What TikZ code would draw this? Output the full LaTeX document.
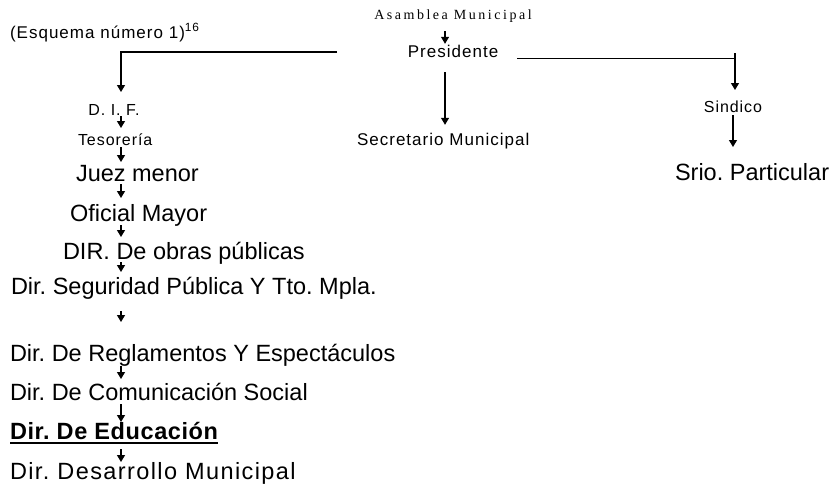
\documentclass[tikz,border=0pt]{standalone}
\usepackage{fontspec}
\setmainfont{Liberation Sans}
\frenchspacing
\newfontfamily\fsmall[LetterSpace=6]{Liberation Sans}
\newfontfamily\fbig{Liberation Sans}
\newfontfamily\fdes[LetterSpace=6]{Liberation Sans}
\newfontfamily\fedu[LetterSpace=2.5]{Liberation Sans}
\newfontfamily\fserif[LetterSpace=18]{Liberation Serif}
\usetikzlibrary{arrows.meta}
\tikzset{
  txt/.style={inner sep=0pt, outer sep=0pt, text depth=0pt},
  big/.style={txt, font=\fbig\frenchspacing\fontsize{23.5}{28}\selectfont, text height=17pt, anchor=base west},
  sm/.style={txt, font=\fsmall\frenchspacing\fontsize{16}{19}\selectfont, text height=11.5pt},
  md/.style={txt, font=\fsmall\frenchspacing\fontsize{17}{20}\selectfont, text height=12.2pt},
  ser/.style={txt, font=\fserif\fontsize{14}{17}\selectfont, text height=9.3pt},
  arr/.style={-{Triangle[width=8pt,length=7pt]}, line width=1.2pt},
  ln/.style={line width=1pt},
}
\begin{document}
\begin{tikzpicture}[x=1pt, y=-1pt]
\useasboundingbox (0,0) rectangle (834,483);
% column coordinates
\coordinate (colx) at (121,0);
\coordinate (colp) at (445,0);
\coordinate (colr) at (735,0);
\coordinate (lend) at (337,52);
\coordinate (rend) at (517,58);
\coordinate (rtick) at (735,53);
% nodes
\node[ser, anchor=base] (asam) at (453,19) {Asamblea Municipal};
\node[md, anchor=base] (pres) at (453,57) {Presidente};
\node[md, anchor=base west] (esq) at (10,38) {(Esquema número 1)\textsuperscript{16}};
\node[sm, anchor=base] (dif) at (114,115) {D. I. F.};
\node[sm, anchor=base west] (tes) at (78,145) {Tesorería};
\node[md, anchor=base west] (sec) at (357,145) {Secretario Municipal};
\node[sm, anchor=base] (sind) at (733,112) {Sindico};
\node[big] (srio) at (675,180) {Srio. Particular};
\node[big] (juez) at (76,181) {Juez menor};
\node[big] (ofi) at (70,221) {Oficial Mayor};
\node[big] (obras) at (63,259) {DIR. De obras públicas};
\node[big] (seg) at (11,294) {Dir. Seguridad Pública Y Tto. Mpla.};
\node[big] (reg) at (10,361) {Dir. De Reglamentos Y Espectáculos};
\node[big] (com) at (10,400) {Dir. De Comunicación Social};
\node[big, font=\fedu\frenchspacing\bfseries\fontsize{23.5}{28}\selectfont] (edu) at (10,439) {Dir. De Educación};
\node[big, font=\fdes\frenchspacing\fontsize{23.5}{28}\selectfont] (des) at (10,479) {Dir. Desarrollo Municipal};
% underline
\draw[line width=1.3pt] ([yshift=-4pt]edu.south west) -- ([yshift=-4pt]edu.south east);
% connectors from Presidente
\draw[arr, shorten <=12pt, shorten >=1pt] (asam.south -| colp) -- (pres.north -| colp);
\draw[arr, shorten <=15pt, shorten >=8pt] (pres.south -| colp) -- (sec.north -| colp);
\draw[arr, shorten >=11.5pt] (lend) -| (dif.north -| colx);
\draw[ln] (rend) -- (rend -| colr);
\draw[arr, shorten >=10.5pt] (rtick) -- (sind.north -| colr);
\draw[arr, shorten <=3pt, shorten >=16pt] (sind.south) -- (srio.north -| sind.south);
% left column chain
\draw[arr, shorten <=1pt, shorten >=5.5pt] (dif.south -| colx) -- (tes.north -| colx);
\draw[arr, shorten <=2pt, shorten >=2pt] (tes.south -| colx) -- (juez.north -| colx);
\draw[arr, shorten <=3pt, shorten >=6pt] (juez.south -| colx) -- (ofi.north -| colx);
\draw[arr, shorten <=4pt, shorten >=5pt] (ofi.south -| colx) -- (obras.north -| colx);
\draw[arr, shorten <=3pt, shorten >=5pt] (obras.south -| colx) -- (seg.north -| colx);
\draw[arr, shorten <=17pt, shorten >=22pt] (seg.south -| colx) -- (reg.north -| colx);
\draw[arr, shorten <=5pt, shorten >=4pt] (reg.south -| colx) -- (com.north -| colx);
\draw[arr, shorten <=4pt, shorten >=0pt] (com.south -| colx) -- (edu.north -| colx);
\draw[arr, shorten <=10pt, shorten >=0pt] (edu.south -| colx) -- (des.north -| colx);
\end{tikzpicture}
\end{document}
